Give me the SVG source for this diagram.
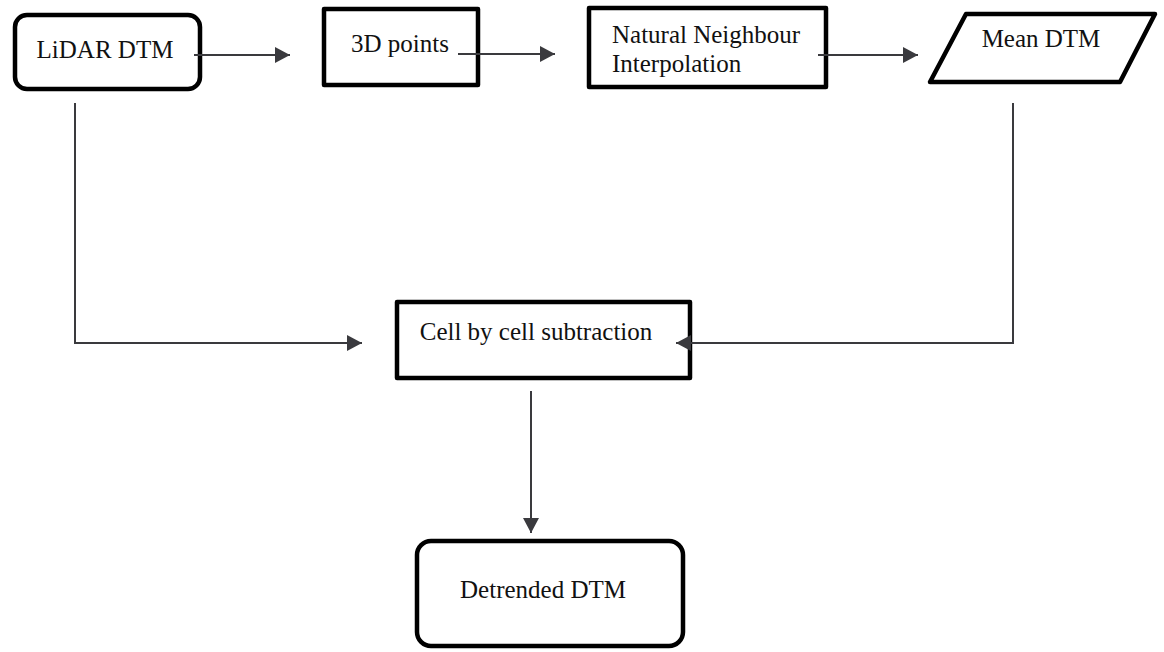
<svg xmlns="http://www.w3.org/2000/svg" width="1164" height="652" viewBox="0 0 1164 652">
<style>
.box{fill:#fff;stroke:#000;stroke-width:4.5;stroke-linejoin:round}
.lbl{font-family:"Liberation Serif","Times New Roman",serif;font-size:25px;fill:#111}
.c{text-anchor:middle}
.edge{fill:none;stroke:#3a3a3e;stroke-width:2}
</style>
<defs>
<marker id="arr" markerUnits="userSpaceOnUse" markerWidth="16" markerHeight="16" refX="15" refY="8" orient="auto">
<path d="M0,0 L15,8 L0,16 z" fill="#3a3a3e"/>
</marker>
</defs>
<rect width="1164" height="652" fill="#fff"/>
<g id="lidar">
<rect class="box" x="15" y="15" width="185" height="74" rx="12"/>
<text class="lbl c" x="105" y="58">LiDAR DTM</text>
</g>
<g id="points">
<rect class="box" x="324" y="9" width="154" height="76"/>
<text class="lbl c" x="400" y="52">3D points</text>
</g>
<g id="nni">
<rect class="box" x="589" y="8" width="237" height="79"/>
<text class="lbl" x="612" y="43">Natural Neighbour</text>
<text class="lbl" x="612" y="72">Interpolation</text>
</g>
<g id="mean">
<path class="box" d="M966,14 L1155,14 L1120,82 L930,82 Z"/>
<text class="lbl c" x="1041" y="47">Mean DTM</text>
</g>
<g id="cell">
<rect class="box" x="397" y="302" width="293" height="76"/>
<text class="lbl c" x="536" y="340">Cell by cell subtraction</text>
</g>
<g id="detrended">
<rect class="box" x="417" y="541" width="266" height="105" rx="14"/>
<text class="lbl c" x="543" y="598">Detrended DTM</text>
</g>
<g id="connectors">
<path class="edge" d="M194,55 H290" marker-end="url(#arr)"/>
<path class="edge" d="M458,54 H555" marker-end="url(#arr)"/>
<path class="edge" d="M818,55 H918" marker-end="url(#arr)"/>
<path class="edge" d="M75,103 V343 H362" marker-end="url(#arr)"/>
<path class="edge" d="M1013,103 V343 H676" marker-end="url(#arr)"/>
<path class="edge" d="M531,391 V533" marker-end="url(#arr)"/>
</g>
</svg>
